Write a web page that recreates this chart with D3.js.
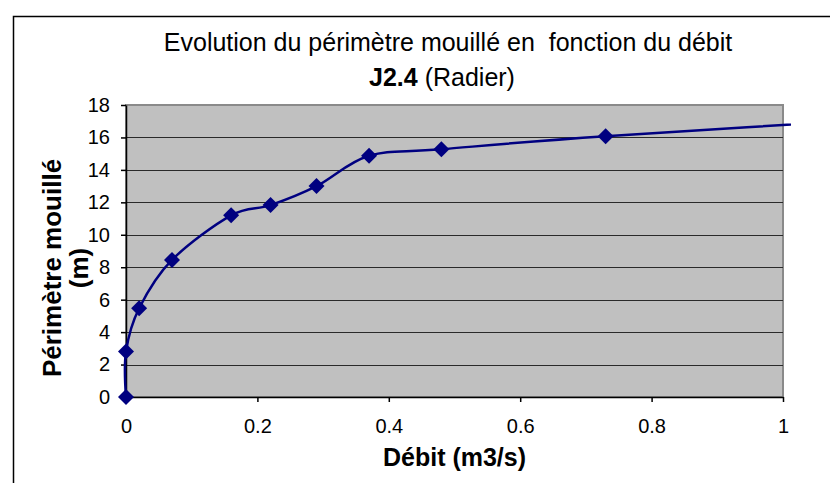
<!DOCTYPE html>
<html>
<head>
<meta charset="utf-8">
<script src="https://cdn.jsdelivr.net/npm/d3@7"></script>
<style>
  body { margin: 0; background: #fff; }
  svg { display: block; font-family: "Liberation Sans", Arial, sans-serif; }
</style>
</head>
<body>
<svg id="chart" width="830" height="483"></svg>
<script>
// data
var debit     = [0, 0, 0.02, 0.07, 0.16, 0.22, 0.29, 0.37, 0.48, 0.73, 1.2];
var perimetre = [0, 2.8, 5.47, 8.45, 11.2, 11.83, 13.0, 14.87, 15.27, 16.08, 17.25];
var xTicks = [0, 0.2, 0.4, 0.6, 0.8, 1];
var yTicks = [0, 2, 4, 6, 8, 10, 12, 14, 16, 18];
var titleLine1 = "Evolution du p\u00e9rim\u00e8tre mouill\u00e9 en\u00a0 fonction du d\u00e9bit";
var xTitle = "D\u00e9bit (m3/s)";
var yTitle = ["P\u00e9rim\u00e8tre mouill\u00e9", "(m)"];

var pts = debit.map(function(d, i){ return {x: d, y: perimetre[i]}; });

var svg = d3.select("#chart");
var plot = {left: 126, right: 783, top: 105, bottom: 397};

var x = d3.scaleLinear().domain([0, 1]).range([plot.left, plot.right]);
var y = d3.scaleLinear().domain([0, 18]).range([plot.bottom, plot.top]);

// chart area border (runs off the picture on the right and bottom)
svg.append("path")
  .attr("d", "M13.5,490V16.5H840")
  .attr("fill", "none")
  .attr("stroke", "#000")
  .attr("stroke-width", 1.5);

// titles
svg.append("text")
  .attr("x", 448).attr("y", 51)
  .attr("text-anchor", "middle")
  .attr("font-size", 25)
  .text(titleLine1);

var sub = svg.append("text")
  .attr("x", 442).attr("y", 86)
  .attr("text-anchor", "middle")
  .attr("font-size", 25);
sub.append("tspan").attr("font-weight", "bold").text("J2.4");
sub.append("tspan").text(" (Radier)");

// plot area
svg.append("rect")
  .attr("x", plot.left).attr("y", plot.top)
  .attr("width", plot.right - plot.left)
  .attr("height", plot.bottom - plot.top)
  .attr("fill", "#c0c0c0")
  .attr("stroke", "#8a8a8a")
  .attr("stroke-width", 2);

// gridlines
svg.append("g").selectAll("line")
  .data(yTicks.filter(function(d){ return d > 0 && d < 18; }))
  .enter().append("line")
    .attr("x1", plot.left).attr("x2", plot.right)
    .attr("y1", function(d){ return Math.round(y(d)) + 0.5; })
    .attr("y2", function(d){ return Math.round(y(d)) + 0.5; })
    .attr("stroke", "#2a2a2a")
    .attr("stroke-width", 1);

// axes
var yAxis = d3.axisLeft(y).tickValues(yTicks).tickSizeInner(5).tickSizeOuter(0).tickPadding(11)
  .tickFormat(d3.format("d"));
var xAxis = d3.axisBottom(x).tickValues(xTicks).tickSizeInner(5).tickSizeOuter(0).tickPadding(17)
  .tickFormat(function(d){ return String(d); });

var gy = svg.append("g")
  .attr("transform", "translate(" + plot.left + ",0)")
  .call(yAxis);
var gx = svg.append("g")
  .attr("transform", "translate(0," + plot.bottom + ")")
  .call(xAxis);

[gx, gy].forEach(function(g){
  g.selectAll("path, line").attr("stroke", "#000").attr("stroke-width", 1.5);
  g.selectAll("text")
    .attr("font-size", 20)
    .attr("font-family", "Liberation Sans, Arial, sans-serif")
    .attr("fill", "#000");
});

// axis titles
svg.append("text")
  .attr("x", (plot.left + plot.right) / 2).attr("y", 466)
  .attr("text-anchor", "middle")
  .attr("font-size", 25)
  .attr("font-weight", "bold")
  .text(xTitle);

var yt = svg.append("text")
  .attr("transform", "translate(61,268) rotate(-90)")
  .attr("text-anchor", "middle")
  .attr("font-size", 26)
  .attr("font-weight", "bold");
yt.selectAll("tspan")
  .data(yTitle)
  .enter().append("tspan")
    .attr("x", 0)
    .attr("dy", function(d, i){ return i === 0 ? 0 : 27; })
    .text(function(d){ return d; });

// series, clipped a little past the right edge as in the original
svg.append("clipPath").attr("id", "clip")
  .append("rect")
    .attr("x", 0).attr("y", 0)
    .attr("width", x(1) + 8).attr("height", 483);

var line = d3.line()
  .x(function(d){ return x(d.x); })
  .y(function(d){ return y(d.y); })
  .curve(d3.curveCardinal.tension(0));

svg.append("path")
  .datum(pts)
  .attr("clip-path", "url(#clip)")
  .attr("d", line)
  .attr("fill", "none")
  .attr("stroke", "#000080")
  .attr("stroke-width", 2.5);

svg.append("g").selectAll("path")
  .data(pts.filter(function(d){ return d.x <= 1; }))
  .enter().append("path")
    .attr("transform", function(d){ return "translate(" + x(d.x) + "," + y(d.y) + ")"; })
    .attr("d", "M0,-8L8,0L0,8L-8,0Z")
    .attr("fill", "#000080");
</script>
</body>
</html>
